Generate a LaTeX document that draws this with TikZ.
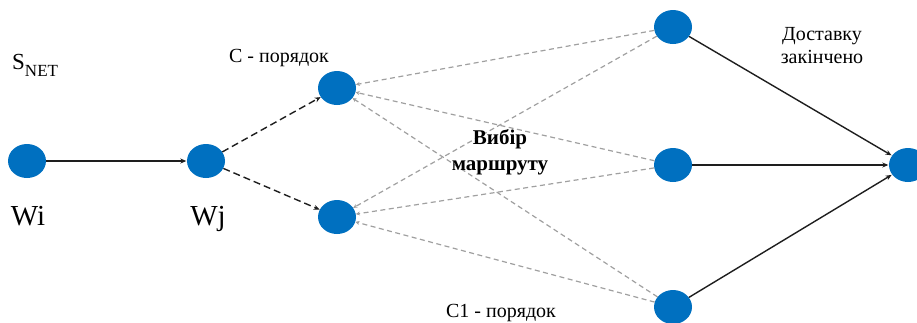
\documentclass[tikz,border=0pt]{standalone}
\usepackage{fontspec}
\setmainfont{Liberation Serif}
\usetikzlibrary{arrows.meta,shapes.geometric}
\definecolor{nodeblue}{RGB}{0,112,192}
\definecolor{dashgray}{RGB}{160,160,160}
\definecolor{linedark}{RGB}{30,30,30}
\begin{document}
\begin{tikzpicture}[x=1pt,y=-1pt,
  dot/.style={ellipse, fill=nodeblue, minimum width=38pt, minimum height=34pt, inner sep=0pt},
  lbl/.style={inner sep=0pt, font=\fontsize{20}{23}\selectfont, align=center},
  solidarrow/.style={draw=linedark, line width=1.4pt, -{Stealth[length=6pt,width=5pt]}, shorten >=0.5pt},
  darkdash/.style={draw=linedark, line width=1.4pt, dash pattern=on 7pt off 4pt, -{Stealth[length=6pt,width=5pt]}},
  graydash/.style={draw=dashgray, line width=1.2pt, dash pattern=on 5pt off 3.5pt, -{Stealth[length=4pt,width=4pt]}}
]
\useasboundingbox (0,0) rectangle (917,322);
\clip (0,0) rectangle (917,322);

\node[dot] (wi) at (27,161) {};
\node[dot] (wj) at (206,161) {};
\node[dot] (ca) at (337,88) {};
\node[dot] (cb) at (337,217) {};
\node[dot] (r1) at (673,27) {};
\node[dot] (r2) at (673,165) {};
\node[dot] (r3) at (673,307) {};
\node[dot] (fin) at (908,165) {};

\draw[solidarrow] (wi) -- (wj);
\draw[darkdash] (wj) -- (ca);
\draw[darkdash] (wj) -- (cb);

\draw[graydash] (r1) -- (ca);
\draw[graydash] (r2) -- (ca);
\draw[graydash] (r3) -- (ca);
\draw[graydash] (r1) -- (cb);
\draw[graydash] (r2) -- (cb);
\draw[graydash] (r3) -- (cb);

\draw[solidarrow] (r1) -- (fin);
\draw[solidarrow] (r2) -- (fin);
\draw[solidarrow] (r3) -- (fin);

\node[lbl, anchor=base west, font=\fontsize{23}{25}\selectfont] (snet) at (12,69) {S\raisebox{-7pt}{\fontsize{17}{17}\selectfont NET}};
\node[lbl, anchor=base, font=\fontsize{29}{30}\selectfont] (wilbl) at (28,225) {Wi};
\node[lbl, anchor=base, font=\fontsize{29}{30}\selectfont] (wjlbl) at (208,225) {Wj};
\node[lbl, anchor=base] (clbl) at (279,62) {C - порядок};
\node[lbl, anchor=base] (c1lbl) at (501,317) {C1 - порядок};
\node[lbl, font=\bfseries\fontsize{21}{26}\selectfont] (route) at (500,152) {Вибір\\маршруту};
\node[lbl] (done) at (822,46) {Доставку\\закінчено};
\end{tikzpicture}
\end{document}
